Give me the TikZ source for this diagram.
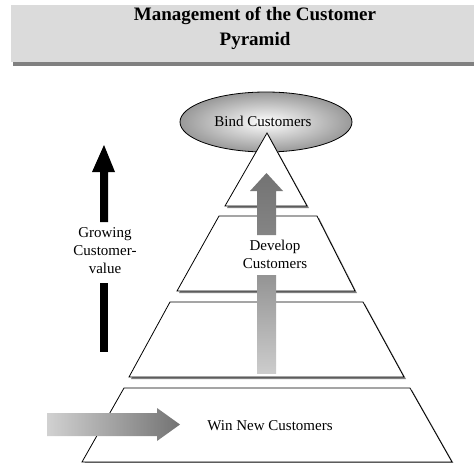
\documentclass[tikz,border=0pt]{standalone}
\usepackage{fontspec}
\setmainfont{Liberation Serif}
\usetikzlibrary{shapes.geometric}
\tikzset{
  layer/.style={draw=black, fill=white, line width=0.8pt, line join=miter},
  layershadow/.style={fill=black!50, draw=none},
  lbl/.style={font=\fontsize{15}{18}\selectfont, align=center, inner sep=0pt},
}
\begin{document}
\begin{tikzpicture}[x=1pt,y=-1pt]
\useasboundingbox (0,0) rectangle (474,463);
% title
\fill[black!50] (13,61) rectangle (474,65.5);
\fill[black!14] (11,5) rectangle (474,62);
\node[lbl, font=\fontsize{19}{25}\selectfont\bfseries] (title) at (255,28) {Management of the Customer\\Pyramid};

% ellipse
\shade[inner color=white, outer color=black!40, draw=black, line width=0.8pt]
  (266,122) ellipse [x radius=86, y radius=30];
\node[lbl] (bind) at (263,121) {Bind Customers};

% shadows
\fill[layershadow] (268.5,134.5) -- (309,208) -- (227,208) -- cycle;
\fill[layershadow] (221,218) -- (319,218) -- (357,293) -- (179,293) -- cycle;
\fill[layershadow] (172,304) -- (365,304) -- (406,379) -- (131,379) -- cycle;
\fill[layershadow] (126,390) -- (412,390) -- (454,464) -- (84,464) -- cycle;

% layers
\draw[layer] (267,133) -- (307,206) -- (225,206) -- cycle;
\draw[layer] (219,216) -- (317,216) -- (355,291) -- (177,291) -- cycle;
\draw[layer] (170,302) -- (363,302) -- (404,377) -- (129,377) -- cycle;
\draw[layer] (124,388) -- (410,388) -- (452,462) -- (82,462) -- cycle;

% gray up arrow (upper part)
\shade[top color=black!55, bottom color=black!48]
  (266.5,173) -- (283,191) -- (276,191) -- (276,235) -- (257,235) -- (257,191) -- (250,191) -- cycle;
% gray shaft (lower part)
\shade[top color=black!42, bottom color=black!20]
  (257,275) rectangle (276,373);
\node[lbl] (develop) at (275,254) {Develop\\Customers};

% black arrow
\fill[black] (104,145) -- (115,172) -- (108,172) -- (108,222) -- (100,222) -- (100,172) -- (92,172) -- cycle;
\fill[black] (100,283) rectangle (108,352);
\node[lbl] (grow) at (105,251) {Growing\\Customer-\\value};

% horizontal arrow
\shade[left color=black!18, right color=black!55]
  (47,413) -- (157,413) -- (157,408) -- (180,424.5) -- (157,441) -- (157,436) -- (47,436) -- cycle;
\node[lbl] (win) at (270,426) {Win New Customers};
\end{tikzpicture}
\end{document}
